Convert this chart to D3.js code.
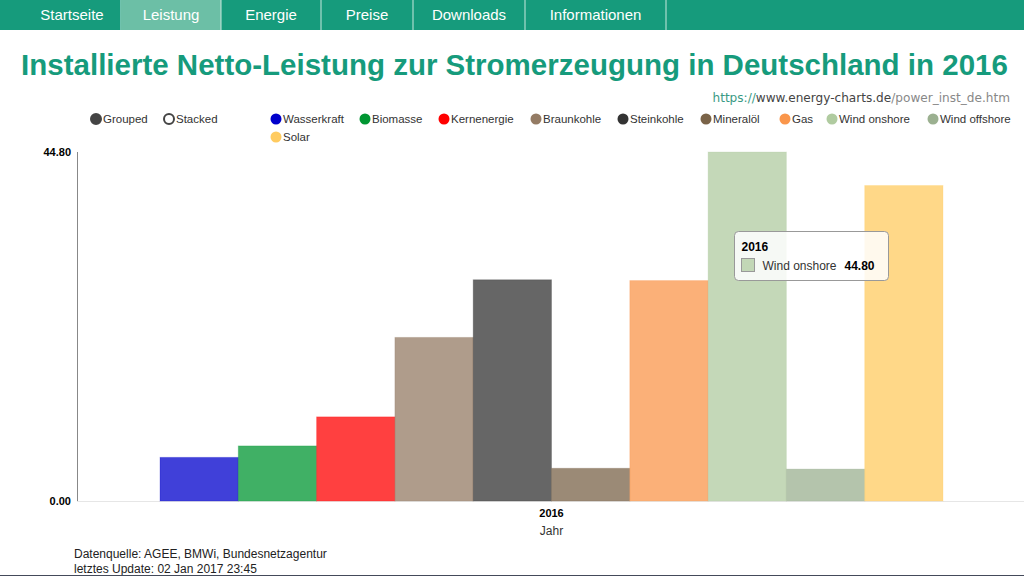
<!DOCTYPE html>
<html><head><meta charset="utf-8">
<script src="https://cdn.jsdelivr.net/npm/d3@7"></script>
<style>
html,body{margin:0;padding:0;background:#fff;overflow:hidden;}
svg{display:block;font-family:"Liberation Sans",Arial,sans-serif;}
</style></head>
<body>
<svg id="chart" width="1024" height="576"></svg>
<script>
const navItems = ["Startseite","Leistung","Energie","Preise","Downloads","Informationen"];
const activeNav = "Leistung";
const categories = ["2016"];
const seriesNames = ["Wasserkraft","Biomasse","Kernenergie","Braunkohle","Steinkohle","Mineralöl","Gas","Wind onshore","Wind offshore","Solar"];
const seriesColors = ["#0000cc","#009632","#ff0000","#947b64","#333333","#7a6348","#fa964b","#b0cba0","#9bb090","#ffcb60"];
const values2016 = [5.6, 7.07, 10.8, 21.0, 28.4, 4.2, 28.3, 44.8, 4.1, 40.5];
const yTicks = [0, 44.8];
const modeLabels = ["Grouped","Stacked"];

const svg = d3.select("#chart");

// nav bar
const navEdges = [0,121,221,321,413,525,666];
const nav = svg.append("g");
nav.append("rect").attr("x",0).attr("y",0).attr("width",1024).attr("height",30).attr("fill","#169b7c");
navItems.forEach((n,i)=>{
  const x0 = navEdges[i], x1 = navEdges[i+1];
  if(n===activeNav) nav.append("rect").attr("x",x0).attr("y",0).attr("width",x1-x0).attr("height",30).attr("fill","#6cbfa6");
  nav.append("line").attr("x1",x1).attr("x2",x1).attr("y1",0).attr("y2",30).attr("stroke","#c8e8de").attr("stroke-width",1);
  const left = i===0 ? 23 : x0;
  nav.append("text").attr("x",(left+x1)/2).attr("y",20).attr("text-anchor","middle")
    .attr("fill","#fff").attr("font-size",15).text(n);
});

// title
svg.append("text").attr("x",514.5).attr("y",75).attr("text-anchor","middle").attr("fill","#169b7c")
  .attr("font-size",29.5).attr("font-weight","bold").text("Installierte Netto-Leistung zur Stromerzeugung in Deutschland in 2016");

// url
const url = svg.append("text").attr("x",1010).attr("y",102).attr("text-anchor","end")
  .attr("font-family","'DejaVu Sans',sans-serif").attr("font-size",12.1);
url.append("tspan").attr("fill","#3a9a84").text("https://");
url.append("tspan").attr("fill","#444").text("www.energy-charts.de");
url.append("tspan").attr("fill","#888").text("/power_inst_de.htm");

// legend controls
const ctrlX = [96,169];
modeLabels.forEach((m,i)=>{
  svg.append("circle").attr("cx",ctrlX[i]).attr("cy",119).attr("r",5)
    .attr("fill", i===0?"#444":"#fff").attr("stroke","#444").attr("stroke-width",2);
  svg.append("text").attr("x",ctrlX[i]+7).attr("y",123).attr("font-size",11.5).attr("fill","#333").text(m);
});
const legX = [276,365,444,536,623,706,785,832,933,276];
const legY = [119,119,119,119,119,119,119,119,119,137];
seriesNames.forEach((s,i)=>{
  svg.append("circle").attr("cx",legX[i]).attr("cy",legY[i]).attr("r",5.5).attr("fill",seriesColors[i]);
  svg.append("text").attr("x",legX[i]+7).attr("y",legY[i]+4).attr("font-size",11.5).attr("fill","#333").text(s);
});

// scales
const x0 = d3.scaleBand().domain(categories).range([77,1026]).paddingInner(0).paddingOuter(0.106);
const x1 = d3.scaleBand().domain(seriesNames).range([0,x0.bandwidth()]).padding(0);
const y = d3.scaleLinear().domain([0,44.8]).range([501,152]);

// baseline
svg.append("line").attr("x1",77).attr("x2",1024).attr("y1",y(0)+0.5).attr("y2",y(0)+0.5).attr("stroke","#e6e6e6");

// bars
const g = svg.append("g");
categories.forEach(c=>{
  seriesNames.forEach((s,i)=>{
    const v = values2016[i];
    g.append("rect").attr("x",x0(c)+x1(s)).attr("y",y(v)).attr("width",x1.bandwidth()).attr("height",y(0)-y(v))
      .attr("fill",seriesColors[i]).attr("fill-opacity",0.75)
      .attr("stroke",seriesColors[i]).attr("stroke-opacity",0.25).attr("stroke-width",1);
  });
});

// y axis
const yAxis = d3.axisLeft(y).tickValues(yTicks).tickSize(0).tickPadding(6).tickFormat(d3.format(".2f"));
const ya = svg.append("g").attr("transform","translate(77,0)").call(yAxis);
ya.select(".domain").attr("stroke","#888").attr("d","M0.5,"+y(44.8)+"V"+y(0));
ya.selectAll("text").attr("font-size",11).attr("font-weight","bold").attr("fill","#000").attr("font-family","'Liberation Sans',Arial,sans-serif");

// x axis
const xAxis = d3.axisBottom(x0).tickSize(0).tickPadding(6);
const xa = svg.append("g").attr("transform","translate(0,"+y(0)+")").call(xAxis);
xa.select(".domain").remove();
xa.selectAll("text").attr("font-size",11).attr("font-weight","bold").attr("fill","#000").attr("font-family","'Liberation Sans',Arial,sans-serif").attr("dy","0.9em");
svg.append("text").attr("x",x0("2016")+x0.bandwidth()/2).attr("y",535).attr("text-anchor","middle").attr("font-size",12).attr("fill","#333").text("Jahr");

// tooltip
const ti = seriesNames.indexOf("Wind onshore");
const tt = svg.append("g").attr("transform","translate(734.5,231.5)");
tt.append("rect").attr("width",154).attr("height",49).attr("rx",4).attr("fill","#fff").attr("fill-opacity",0.85).attr("stroke","#999");
tt.append("text").attr("x",7).attr("y",19).attr("font-size",12).attr("font-weight","bold").attr("fill","#000").text(categories[0]);
tt.append("rect").attr("x",7).attr("y",27).attr("width",13).attr("height",13).attr("fill",seriesColors[ti]).attr("fill-opacity",0.75).attr("stroke","#999");
tt.append("text").attr("x",28).attr("y",38).attr("font-size",12).attr("fill","#333").text(seriesNames[ti]);
tt.append("text").attr("x",110).attr("y",38).attr("font-size",12).attr("font-weight","bold").attr("fill","#000").text(d3.format(".2f")(values2016[ti]));

// footer
svg.append("text").attr("x",74).attr("y",558).attr("font-size",12).attr("fill","#222").text("Datenquelle: AGEE, BMWi, Bundesnetzagentur");
svg.append("text").attr("x",74).attr("y",573).attr("font-size",12).attr("fill","#222").text("letztes Update: 02 Jan 2017 23:45");
svg.append("line").attr("x1",0).attr("x2",1024).attr("y1",575.5).attr("y2",575.5).attr("stroke","#444a5a");
</script>
</body></html>
